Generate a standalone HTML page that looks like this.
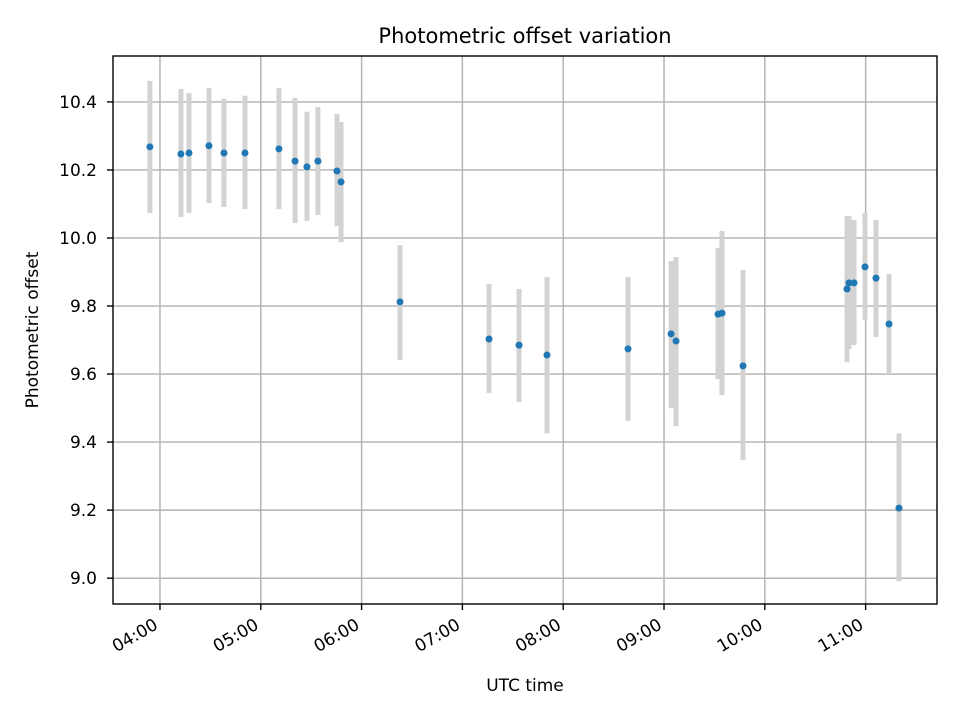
<!DOCTYPE html>
<html><head><meta charset="utf-8"><style>
body{margin:0;background:#fff;}
svg text{font-family:"DejaVu Sans","Liberation Sans",sans-serif;fill:#000;}
</style></head><body>
<svg id="chart" width="960" height="720" xmlns="http://www.w3.org/2000/svg">
<rect x="0" y="0" width="960" height="720" fill="#fff"/>
<g id="grid"></g>
<g id="bars"></g>
<g id="pts"></g>
<g id="axes"></g>
<text x="525" y="43" font-size="21" text-anchor="middle">Photometric offset variation</text>
<text x="525" y="691" font-size="17" text-anchor="middle">UTC time</text>
<text transform="translate(38,330) rotate(-90)" font-size="17" text-anchor="middle">Photometric offset</text>
</svg>
<script>
const times=[3.90,4.208,4.288,4.486,4.635,4.843,5.18,5.34,5.458,5.567,5.756,5.796,6.381,7.264,7.562,7.839,8.643,9.07,9.119,9.536,9.575,9.784,10.815,10.835,10.885,10.994,11.103,11.232,11.331];
const values=[10.268,10.247,10.25,10.271,10.25,10.25,10.262,10.226,10.209,10.226,10.197,10.165,9.812,9.703,9.685,9.656,9.674,9.718,9.697,9.776,9.779,9.624,9.85,9.868,9.868,9.915,9.882,9.747,9.206];
const upper=[10.462,10.438,10.426,10.441,10.409,10.418,10.441,10.412,10.371,10.385,10.365,10.341,9.979,9.865,9.85,9.885,9.885,9.932,9.944,9.971,10.021,9.906,10.065,10.065,10.053,10.074,10.053,9.894,9.426];
const lower=[10.073,10.062,10.074,10.103,10.091,10.085,10.085,10.044,10.05,10.068,10.035,9.988,9.641,9.544,9.518,9.426,9.462,9.5,9.447,9.585,9.538,9.347,9.635,9.674,9.685,9.759,9.709,9.6,8.991];
const yTicks=[9.0,9.2,9.4,9.6,9.8,10.0,10.2,10.4];
const xTicks=[4,5,6,7,8,9,10,11];
const xTickLabels=["04:00","05:00","06:00","07:00","08:00","09:00","10:00","11:00"];

const L=113,R=937,T=56,B=604;
const X0=3.534,X1=11.708,Y0=8.924,Y1=10.535;
const sx=h=>L+(h-X0)/(X1-X0)*(R-L);
const sy=v=>B-(v-Y0)/(Y1-Y0)*(B-T);
const NS="http://www.w3.org/2000/svg";
function mk(tag,attrs,parent){const e=document.createElementNS(NS,tag);for(const k in attrs)e.setAttribute(k,attrs[k]);parent.appendChild(e);return e;}
const grid=document.getElementById('grid'),bars=document.getElementById('bars'),pts=document.getElementById('pts'),axes=document.getElementById('axes');
xTicks.forEach((t,i)=>{
 const x=sx(t);
 const g=mk('line',{x1:x,x2:x,y1:T,y2:B,stroke:'#b0b0b0','stroke-width':1.4},grid);
 
 
 const tk=mk('line',{x1:x,x2:x,y1:B,y2:B+6,stroke:'#000','stroke-width':1.4},axes);
 
 
 const ax=x-1, ay=B+24;
 const tx=mk('text',{x:ax,y:ay,'font-size':17,'text-anchor':'end',transform:`rotate(-30 ${ax} ${ay})`},axes);
 tx.textContent=xTickLabels[i];
 
 
});
yTicks.forEach(t=>{
 const y=sy(t);
 const g=mk('line',{x1:L,x2:R,y1:y,y2:y,stroke:'#b0b0b0','stroke-width':1.4},grid);
 
 
 const tk=mk('line',{x1:L-6,x2:L,y1:y,y2:y,stroke:'#000','stroke-width':1.4},axes);
 
 
 const tx=mk('text',{x:L-16,y:y+6,'font-size':17,'text-anchor':'end'},axes);
 tx.textContent=t.toFixed(1);
 
 
});
const frame=mk('rect',{x:L,y:T,width:R-L,height:B-T,fill:'none',stroke:'#000','stroke-width':1.4},axes);


times.forEach((t,i)=>{
 const x=sx(t);
 const b=mk('line',{x1:x,x2:x,y1:sy(upper[i]),y2:sy(lower[i]),stroke:'#d3d3d3','stroke-width':5},bars);
 
 
});
times.forEach((t,i)=>{
 const c=mk('circle',{cx:sx(t),cy:sy(values[i]),r:3.5,fill:'#1f77b4'},pts);
 
 
});
</script>
</body></html>
